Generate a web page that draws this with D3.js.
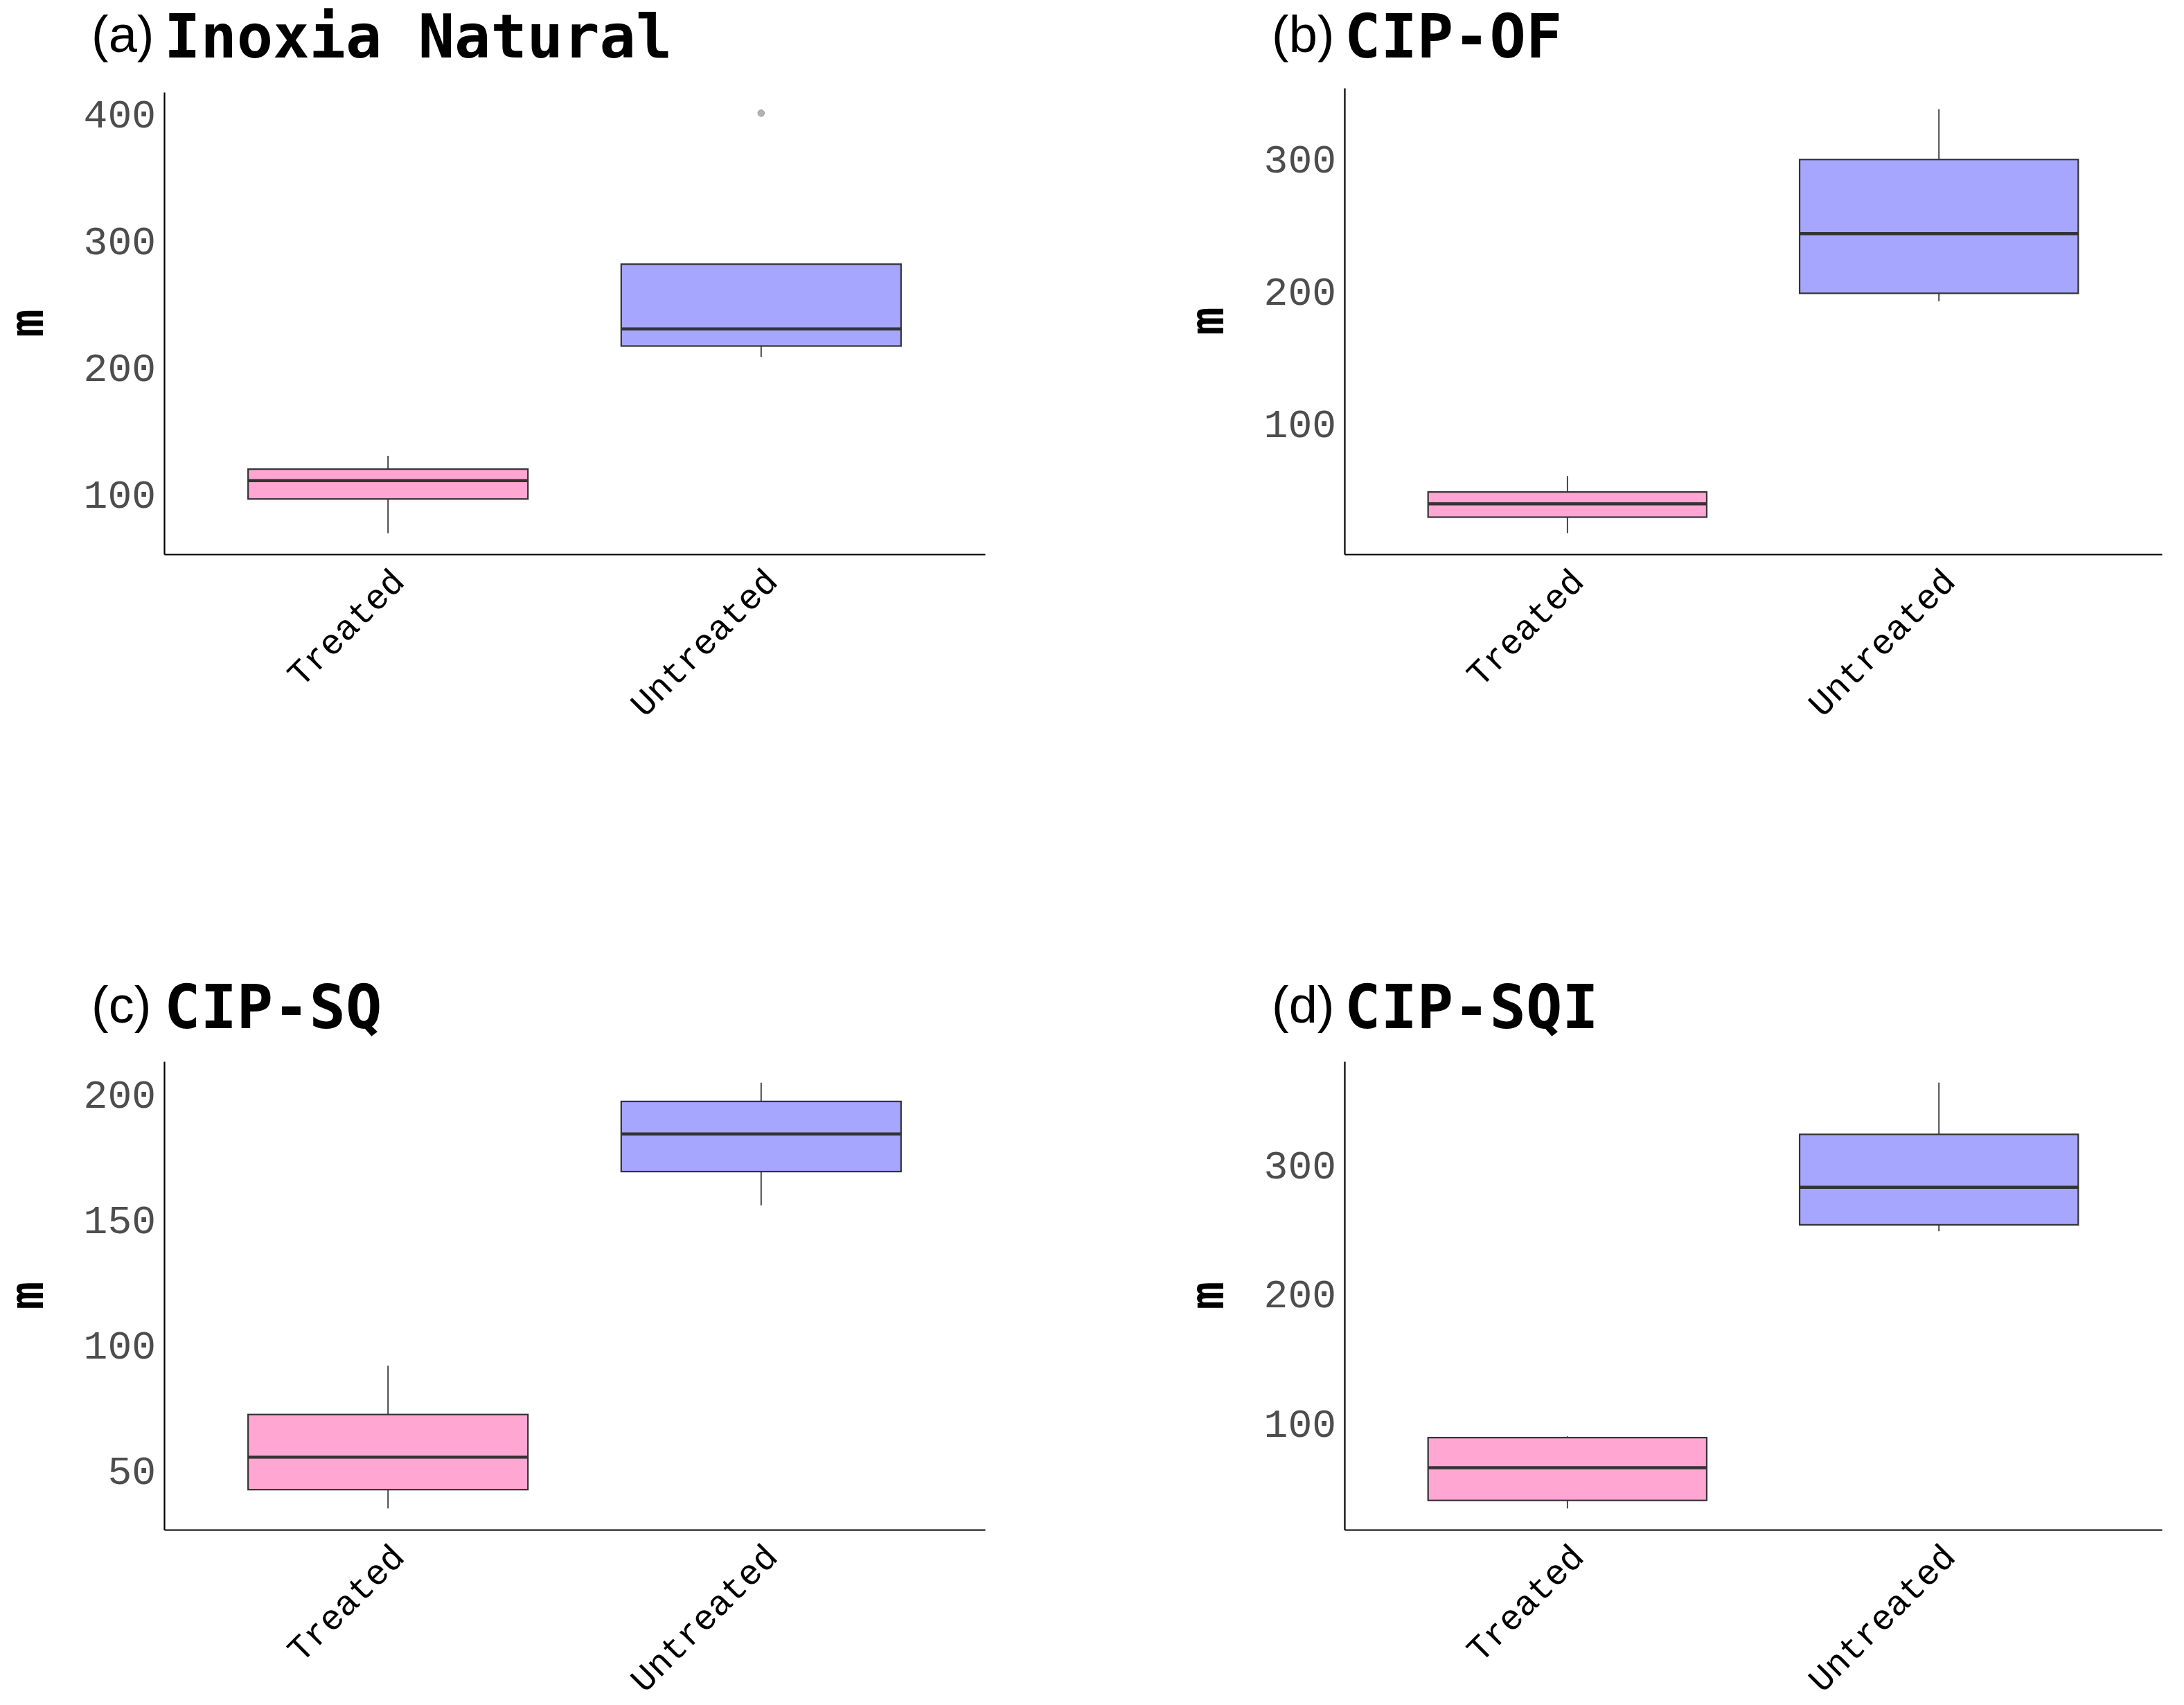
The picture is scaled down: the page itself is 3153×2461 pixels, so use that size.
<!DOCTYPE html>
<html>
<head>
<meta charset="utf-8">
<script src="https://cdn.jsdelivr.net/npm/d3@7"></script>
<style>
  html, body { margin: 0; padding: 0; background: #ffffff; }
  svg { display: block; }
</style>
</head>
<body>
<svg id="chart" width="3153" height="2461"></svg>
<script>
// ---------------- data ----------------
const categories = ["Treated", "Untreated"];
const panelTags = ["(a)", "(b)", "(c)", "(d)"];
const panelTitles = ["Inoxia Natural", "CIP-OF", "CIP-SQ", "CIP-SQI"];
const yLabel = "m";

// box statistics per category: [lower whisker, Q1, median, Q3, upper whisker]
const statsA = [[70, 97, 111.5, 120.5, 131], [209, 217.5, 231, 282, 282]];
const statsB = [[18, 30, 40, 49, 61], [193, 199, 244, 300, 338]];
const statsC = [[35, 42.5, 55.5, 72.5, 92], [156, 169.5, 184.5, 197.5, 205]];
const statsD = [[34.5, 40.7, 66, 89.3, 90.3], [249, 254, 283, 324, 364]];

const outliersA = [[], [401]];
const outliersB = [[], []];
const outliersC = [[], []];
const outliersD = [[], []];

const yTicksA = [100, 200, 300, 400];
const yTicksB = [100, 200, 300];
const yTicksC = [50, 100, 150, 200];
const yTicksD = [100, 200, 300];

const fillColors = ["#FFA6D3", "#A6A6FF"];

// ---------------- layout ----------------
const panels = [
  { stats: statsA, outliers: outliersA, ticks: yTicksA, x0: 237,  x1: 1422, y0: 133,  y1: 800,  tagY: 75,   titleY: 83 },
  { stats: statsB, outliers: outliersB, ticks: yTicksB, x0: 1941, x1: 3121, y0: 127,  y1: 800,  tagY: 75,   titleY: 83 },
  { stats: statsC, outliers: outliersC, ticks: yTicksC, x0: 237,  x1: 1422, y0: 1532, y1: 2208, tagY: 1476, titleY: 1484 },
  { stats: statsD, outliers: outliersD, ticks: yTicksD, x0: 1941, x1: 3121, y0: 1532, y1: 2208, tagY: 1476, titleY: 1484 }
];

const MONO_BOLD = "'DejaVu Sans Mono', 'Liberation Mono', monospace";
const MONO_TEXT = "'Liberation Mono', 'DejaVu Sans Mono', monospace";
const SANS = "'Liberation Sans', Arial, sans-serif";
const svg = d3.select("#chart");

panels.forEach((p, i) => {
  const g = svg.append("g");

  // y domain: data range expanded by 5% on each side (ggplot default)
  const allVals = p.stats.flat().concat(p.outliers.flat());
  const lo = d3.min(allVals), hi = d3.max(allVals);
  const pad = (hi - lo) * 0.05;
  const y = d3.scaleLinear().domain([lo - pad, hi + pad]).range([p.y1, p.y0]);

  const x = d3.scalePoint().domain(categories).range([p.x0, p.x1]).padding(0.6);
  const boxW = x.step() * 0.75;

  // tag + title
  g.append("text")
    .attr("x", p.x0 - 105).attr("y", p.tagY)
    .attr("font-family", SANS).attr("font-size", 74)
    .attr("fill", "#000").text(panelTags[i]);
  g.append("text")
    .attr("x", p.x0).attr("y", p.titleY)
    .attr("font-family", MONO_BOLD).attr("font-weight", "bold").attr("font-size", 87)
    .attr("fill", "#000").text(panelTitles[i]);

  // y-axis label
  g.append("text")
    .attr("transform", `translate(${p.x0 - 199},${(p.y0 + p.y1) / 2}) rotate(-90)`)
    .attr("text-anchor", "middle").attr("dominant-baseline", "central")
    .attr("font-family", MONO_BOLD).attr("font-weight", "bold").attr("font-size", 68)
    .attr("fill", "#000").text(yLabel);

  // boxes
  p.stats.forEach((s, ci) => {
    const cx = x(categories[ci]);
    const [wl, q1, med, q3, wh] = s;
    const bg = g.append("g");
    bg.append("line").attr("x1", cx).attr("x2", cx).attr("y1", y(q3)).attr("y2", y(wh))
      .attr("stroke", "#333333").attr("stroke-width", 1.8);
    bg.append("line").attr("x1", cx).attr("x2", cx).attr("y1", y(q1)).attr("y2", y(wl))
      .attr("stroke", "#333333").attr("stroke-width", 1.8);
    bg.append("rect")
      .attr("x", cx - boxW / 2).attr("width", boxW)
      .attr("y", y(q3)).attr("height", y(q1) - y(q3))
      .attr("fill", fillColors[ci]).attr("stroke", "#333333").attr("stroke-width", 2.2);
    bg.append("line").attr("x1", cx - boxW / 2).attr("x2", cx + boxW / 2)
      .attr("y1", y(med)).attr("y2", y(med))
      .attr("stroke", "#333333").attr("stroke-width", 4.5);
    p.outliers[ci].forEach(v => {
      bg.append("circle").attr("cx", cx).attr("cy", y(v)).attr("r", 4.8)
        .attr("fill", "#B3B3B3").attr("stroke", "#9a9a9a").attr("stroke-width", 1);
    });
  });

  // y axis
  const yAxis = d3.axisLeft(y).tickValues(p.ticks).tickSize(0).tickPadding(12).tickFormat(d3.format("d"));
  const ya = g.append("g").attr("transform", `translate(${p.x0},0)`).call(yAxis);
  ya.select(".domain").attr("stroke", "#000").attr("stroke-width", 2.2);
  ya.selectAll(".tick text")
    .attr("font-family", MONO_TEXT).attr("font-size", 58).attr("fill", "#4D4D4D")
    .attr("dy", "0.31em");

  // x axis
  const xAxis = d3.axisBottom(x).tickSize(0).tickPadding(0);
  const xa = g.append("g").attr("transform", `translate(0,${p.y1})`).call(xAxis);
  xa.select(".domain").attr("stroke", "#000").attr("stroke-width", 2.2);
  xa.selectAll(".tick text")
    .attr("font-family", MONO_TEXT).attr("font-size", 51).attr("fill", "#000")
    .attr("text-anchor", "end")
    .attr("y", 0).attr("dy", "0.72em")
    .attr("transform", "translate(0,16) rotate(-45)");
});
</script>
</body>
</html>
